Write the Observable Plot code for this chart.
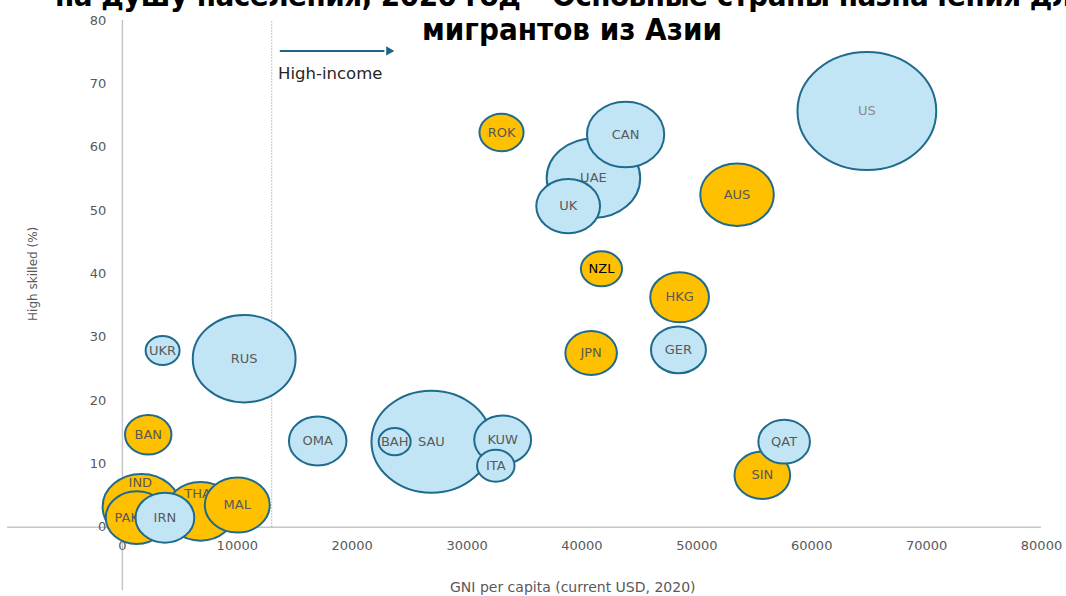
<!DOCTYPE html>
<html>
<head>
<meta charset="utf-8">
<script src="https://cdn.jsdelivr.net/npm/d3@7"></script>
<script src="https://cdn.jsdelivr.net/npm/@observablehq/plot@0.6"></script>
<style>
  html, body { margin: 0; padding: 0; background: #fff; overflow: hidden; }
  #wrap { position: relative; width: 1066px; height: 596px; overflow: hidden; }
  .title { position: absolute; left: 572px; transform: translateX(-50%); white-space: nowrap;
           font-family: "DejaVu Sans Condensed", "DejaVu Sans", sans-serif; font-stretch: condensed;
           font-weight: bold; color: #000; line-height: 1; }
</style>
</head>
<body>
<div id="wrap"></div>
<script>
// ---- data ----
const codes   = ["US","AUS","UAE","CAN","UK","ROK","NZL","HKG","GER","JPN","SIN","QAT","OMA","SAU","BAH","KUW","ITA","UKR","RUS","BAN","IND","THA","PAK","IRN","MAL"];
const gni     = [64800,53500,41000,43800,38800,33000,41700,48500,48400,40800,55700,57600,17000,26900,23700,33100,32500,3500,10600,2250,1650,6800,1250,3700,10000];
const skilled = [65.7,52.5,55.1,62.0,50.7,62.3,40.8,36.3,28.0,27.5,8.2,13.5,13.6,13.5,13.5,13.8,9.7,27.9,26.6,14.6,3.2,2.5,1.5,1.5,3.5];
const bubble  = [100,28.1,45.4,31.0,21.1,10.1,8.8,17.9,15.7,13.8,16.1,13.8,17.2,74.7,5.3,16.8,7.3,6.0,54.9,11.2,31.2,24.8,19.9,17.9,21.9];
const asiaPacific = ["AUS","ROK","NZL","HKG","JPN","SIN","BAN","IND","THA","PAK","MAL"];
const xTicks = [0,10000,20000,30000,40000,50000,60000,70000,80000];
const yTicks = [0,10,20,30,40,50,60,70,80];
const highIncomeThreshold = 13000;
const arrowX = [13700, 23700];
const arrowY = 75.2;
const highIncomeLabel = {x: 13550, y: 71.6, text: "High-income"};
const xTitle = {x: 39200, y: -9.6, text: "GNI per capita (current USD, 2020)"};
const yTitle = {x: -7750, y: 40.0, text: "High skilled (%)"};
const titleLines = ["на душу населения, 2020 год – Основные страны назначения для", "мигрантов из Азии"];

const data = codes.map((c, i) => ({code: c, gni: gni[i], skilled: skilled[i], size: bubble[i],
  group: asiaPacific.includes(c) ? "Asia-Pacific" : "Other"}));

// ---- styles ----
const ORANGE = "#FFC000", BLUE = "#C2E5F5", EDGE = "#1F6B8E", AXIS = "#C6C6C6", TICK = "#595959";
const labelNudge = {IND: [-1, -24], THA: [-3, -18], PAK: [-10, 0]};
const labelColor = {US: "#8A8A8A", NZL: "#000000"};
const K = 1.176; // horizontal stretch of the bubbles
const ellipse = {
  draw(ctx, size) {
    const ry = Math.sqrt(size / Math.PI), rx = ry * K, k = 0.5523;
    ctx.moveTo(rx, 0);
    ctx.bezierCurveTo(rx, ry * k, rx * k, ry, 0, ry);
    ctx.bezierCurveTo(-rx * k, ry, -rx, ry * k, -rx, 0);
    ctx.bezierCurveTo(-rx, -ry * k, -rx * k, -ry, 0, -ry);
    ctx.bezierCurveTo(rx * k, -ry, rx, -ry * k, rx, 0);
    ctx.closePath();
  }
};

const bubbleMarks = data.flatMap(d => {
  const [dx, dy] = labelNudge[d.code] || [0, 0];
  return [
    Plot.dot([d], {x: "gni", y: "skilled", r: "size", symbol: ellipse,
      fill: d.group === "Asia-Pacific" ? ORANGE : BLUE, stroke: EDGE, strokeWidth: 2}),
    Plot.text([d], {x: "gni", y: "skilled", text: "code", dx, dy,
      fill: labelColor[d.code] || TICK, fontSize: 13})
  ];
});

const chart = Plot.plot({
  width: 1066, height: 596,
  marginLeft: 7, marginRight: 25, marginTop: 20, marginBottom: 6,
  style: {fontFamily: "'DejaVu Sans', sans-serif", fontSize: "13px", background: "transparent"},
  x: {domain: [-10000, 80000], axis: null},
  y: {domain: [-10, 80], axis: null},
  r: {type: "sqrt", domain: [0, 100], range: [0, 59]},
  marks: [
    Plot.ruleX([0], {y1: -10, y2: 80, stroke: AXIS, strokeWidth: 1.5}),
    Plot.ruleY([0], {x1: -10000, x2: 80000, stroke: AXIS, strokeWidth: 1.5}),
    Plot.ruleX([highIncomeThreshold], {y1: 0, y2: 80, stroke: "#9A9A9A", strokeDasharray: "1.2,1.8"}),
    Plot.text(xTicks, {x: d => d, y: 0, dy: 19, text: d => String(d), fill: TICK, fontSize: 13}),
    Plot.text(yTicks, {x: 0, y: d => d, dx: -16, textAnchor: "end", text: d => String(d), fill: TICK, fontSize: 13}),
    Plot.link([arrowX], {x1: d => d[0], x2: d => d[1] - 900, y1: arrowY, y2: arrowY, stroke: "#1F6587", strokeWidth: 2}),
    Plot.dot([arrowX], {x: d => d[1] - 500, y: arrowY, symbol: "triangle2", rotate: 90, r: 4.5, fill: "#1F6587"}),
    Plot.text([highIncomeLabel], {x: "x", y: "y", text: "text", textAnchor: "start", fill: "#262626", fontSize: 16.5}),
    ...bubbleMarks,
    Plot.text([xTitle], {x: "x", y: "y", text: "text", fill: TICK, fontSize: 14}),
    Plot.text([yTitle], {x: "x", y: "y", text: "text", rotate: -90, fill: TICK, fontSize: 12})
  ]
});

const wrap = document.getElementById("wrap");
wrap.appendChild(chart);

// Title overlaid on top of the chart, first line partly above the page edge (as in the reference)
const lines = titleLines.map(t => {
  const el = document.createElement("div");
  el.className = "title";
  el.textContent = t;
  wrap.appendChild(el);
  return el;
});
let fs = 32;
lines.forEach(el => el.style.fontSize = fs + "px");
const w2 = lines[1].getBoundingClientRect().width;
fs = fs * 300 / w2;
lines.forEach(el => el.style.fontSize = fs + "px");
// first line slightly tighter so it starts near x = 55
const w1 = lines[0].getBoundingClientRect().width;
const target1 = 2 * (572 - 55);
lines[0].style.letterSpacing = ((target1 - w1) / titleLines[0].length) + "px";
const baselines = [6, 40];
lines.forEach((el, i) => el.style.top = (baselines[i] - 0.846 * fs) + "px");
</script>
</body>
</html>
